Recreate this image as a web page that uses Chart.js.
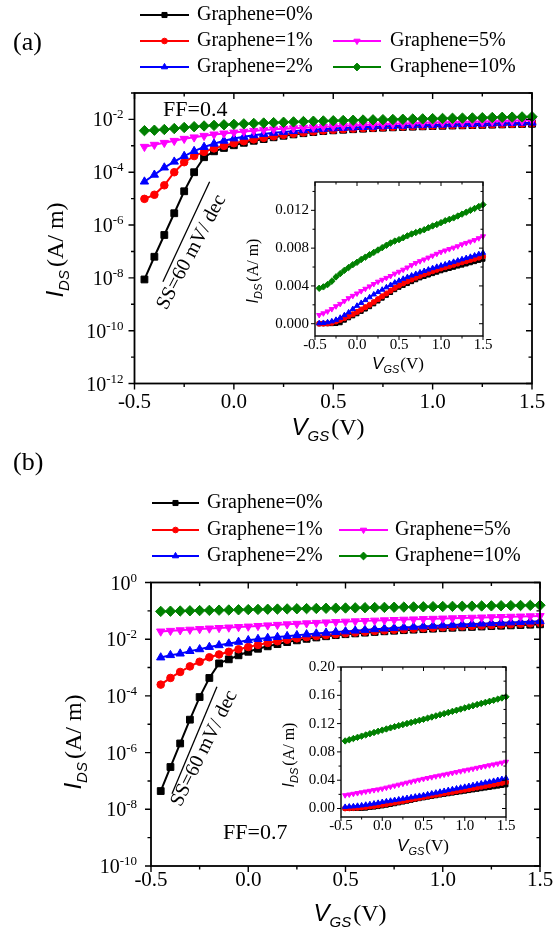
<!DOCTYPE html>
<html><head><meta charset="utf-8">
<script src="https://cdn.jsdelivr.net/npm/chart.js@4.4.0/dist/chart.umd.min.js"></script>
<style>
html,body{margin:0;padding:0;background:#fff;width:560px;height:937px;overflow:hidden}
#wrap{position:relative;width:560px;height:937px}
canvas{position:absolute;left:0;top:0}
</style></head><body>
<div id="wrap">
<canvas id="mainA" width="560" height="937"></canvas>
<canvas id="mainB" width="560" height="937"></canvas>
<canvas id="insetA" width="560" height="937"></canvas>
<canvas id="insetB" width="560" height="937"></canvas>
</div>
<script>
// ---------- DATA ----------
const vgs = [-0.45,-0.40,-0.35,-0.30,-0.25,-0.20,-0.15,-0.10,-0.05,0.00,
             0.05,0.10,0.15,0.20,0.25,0.30,0.35,0.40,0.45,0.50,
             0.55,0.60,0.65,0.70,0.75,0.80,0.85,0.90,0.95,1.00,
             1.05,1.10,1.15,1.20,1.25,1.30,1.35,1.40,1.45,1.50];
const seriesLabels = ['Graphene=0%','Graphene=1%','Graphene=2%','Graphene=5%','Graphene=10%'];

// Panel (a): FF = 0.4, I_DS in A/m
const g0A = [8.7e-9,6.3e-8,4.2e-7,2.8e-6,1.9e-5,1.0e-4,3.7e-4,6.2e-4,8.3e-4,1.05e-3,
             1.30e-3,1.55e-3,1.80e-3,2.10e-3,2.40e-3,2.70e-3,3.00e-3,3.30e-3,3.60e-3,3.85e-3,
             4.05e-3,4.25e-3,4.45e-3,4.65e-3,4.85e-3,5.00e-3,5.15e-3,5.30e-3,5.45e-3,5.60e-3,
             5.72e-3,5.85e-3,5.97e-3,6.10e-3,6.20e-3,6.32e-3,6.45e-3,6.57e-3,6.70e-3,6.82e-3];
const g1A = [9.8e-6,1.4e-5,3.2e-5,1.0e-4,2.4e-4,4.1e-4,5.9e-4,8.0e-4,1.0e-3,1.25e-3,
             1.50e-3,1.75e-3,2.00e-3,2.30e-3,2.60e-3,2.90e-3,3.20e-3,3.50e-3,3.80e-3,4.05e-3,
             4.27e-3,4.48e-3,4.68e-3,4.88e-3,5.07e-3,5.24e-3,5.40e-3,5.56e-3,5.71e-3,5.85e-3,
             5.98e-3,6.11e-3,6.24e-3,6.37e-3,6.50e-3,6.62e-3,6.75e-3,6.87e-3,7.00e-3,7.12e-3];
const g2A = [4.4e-5,8.0e-5,1.5e-4,2.5e-4,4.1e-4,6.3e-4,9.0e-4,1.2e-3,1.55e-3,1.9e-3,
             2.20e-3,2.50e-3,2.80e-3,3.10e-3,3.35e-3,3.60e-3,3.85e-3,4.10e-3,4.35e-3,4.55e-3,
             4.75e-3,4.93e-3,5.10e-3,5.27e-3,5.43e-3,5.58e-3,5.73e-3,5.88e-3,6.02e-3,6.15e-3,
             6.28e-3,6.42e-3,6.55e-3,6.68e-3,6.82e-3,6.95e-3,7.08e-3,7.22e-3,7.36e-3,7.50e-3];
const g5A = [9.2e-4,1.1e-3,1.3e-3,1.55e-3,1.85e-3,2.1e-3,2.4e-3,2.7e-3,2.95e-3,3.2e-3,
             3.45e-3,3.70e-3,3.95e-3,4.20e-3,4.45e-3,4.65e-3,4.85e-3,5.05e-3,5.30e-3,5.50e-3,
             5.72e-3,5.95e-3,6.20e-3,6.42e-3,6.62e-3,6.80e-3,7.00e-3,7.20e-3,7.40e-3,7.60e-3,
             7.75e-3,7.90e-3,8.05e-3,8.20e-3,8.40e-3,8.55e-3,8.70e-3,8.85e-3,9.05e-3,9.25e-3];
const g10A = [3.75e-3,3.90e-3,4.15e-3,4.50e-3,4.95e-3,5.30e-3,5.65e-3,5.95e-3,6.25e-3,6.50e-3,
              6.80e-3,7.05e-3,7.30e-3,7.55e-3,7.80e-3,8.05e-3,8.30e-3,8.55e-3,8.75e-3,8.90e-3,
              9.10e-3,9.30e-3,9.50e-3,9.65e-3,9.80e-3,9.95e-3,10.15e-3,10.35e-3,10.5e-3,10.7e-3,
              10.9e-3,11.05e-3,11.2e-3,11.4e-3,11.6e-3,11.8e-3,12.0e-3,12.2e-3,12.4e-3,12.6e-3];

// Panel (b): FF = 0.7
const g0B = [4.4e-8,3.1e-7,2.1e-6,1.45e-5,9.1e-5,4.3e-4,1.4e-3,1.95e-3,2.7e-3,3.6e-3,
             4.6e-3,5.6e-3,6.7e-3,7.9e-3,9.1e-3,10.3e-3,11.5e-3,12.7e-3,13.9e-3,15.0e-3,
             16.0e-3,17.0e-3,18.0e-3,19.0e-3,19.9e-3,20.8e-3,21.7e-3,22.6e-3,23.5e-3,24.4e-3,
             25.3e-3,26.2e-3,27.1e-3,28.0e-3,28.9e-3,29.8e-3,30.7e-3,31.6e-3,32.5e-3,33.4e-3];
const g1B = [2.5e-4,4.3e-4,7.0e-4,1.1e-3,1.6e-3,2.3e-3,2.9e-3,3.6e-3,4.4e-3,5.3e-3,
             6.3e-3,7.4e-3,8.5e-3,9.6e-3,10.7e-3,11.8e-3,12.9e-3,14.0e-3,15.1e-3,16.2e-3,
             17.3e-3,18.4e-3,19.5e-3,20.5e-3,21.5e-3,22.5e-3,23.5e-3,24.5e-3,25.5e-3,26.5e-3,
             27.5e-3,28.6e-3,29.7e-3,30.8e-3,31.9e-3,33.0e-3,34.1e-3,35.2e-3,36.3e-3,37.5e-3];
const g2B = [2.26e-3,2.73e-3,3.1e-3,3.8e-3,4.4e-3,5.3e-3,6.1e-3,7.0e-3,8.0e-3,9.2e-3,
             10.1e-3,11.0e-3,11.9e-3,12.8e-3,13.8e-3,14.8e-3,15.8e-3,16.8e-3,17.8e-3,18.8e-3,
             20.0e-3,21.2e-3,22.4e-3,23.6e-3,24.8e-3,26.0e-3,27.2e-3,28.3e-3,29.5e-3,30.6e-3,
             31.8e-3,33.0e-3,34.2e-3,35.4e-3,36.6e-3,37.8e-3,39.0e-3,40.3e-3,41.6e-3,42.9e-3];
const g5B = [18.8e-3,19.8e-3,20.8e-3,21.8e-3,22.9e-3,24.0e-3,25.0e-3,26.0e-3,27.0e-3,28.1e-3,
             29.5e-3,30.9e-3,32.3e-3,33.7e-3,35.1e-3,36.5e-3,37.9e-3,39.3e-3,40.6e-3,41.9e-3,
             43.1e-3,44.3e-3,45.5e-3,46.7e-3,47.9e-3,49.1e-3,50.3e-3,51.5e-3,52.7e-3,53.9e-3,
             55.1e-3,56.3e-3,57.5e-3,58.7e-3,59.9e-3,61.1e-3,62.3e-3,63.5e-3,64.8e-3,66.1e-3];
const g10B = [95.5e-3,97.2e-3,98.9e-3,100.6e-3,102.3e-3,104.0e-3,105.7e-3,107.4e-3,109.1e-3,110.8e-3,
              112.4e-3,114.0e-3,115.6e-3,117.1e-3,118.6e-3,120.1e-3,121.6e-3,123.1e-3,124.6e-3,126.1e-3,
              127.7e-3,129.3e-3,130.9e-3,132.5e-3,134.1e-3,135.7e-3,137.3e-3,138.9e-3,140.5e-3,142.1e-3,
              143.7e-3,145.3e-3,146.9e-3,148.5e-3,150.0e-3,151.5e-3,153.0e-3,154.6e-3,156.2e-3,157.8e-3];

// Tick values / labels
const xTickVals = [-0.5, 0.0, 0.5, 1.0, 1.5];
const xTickLabels = ['-0.5', '0.0', '0.5', '1.0', '1.5'];
const xMinorVals = [-0.25, 0.25, 0.75, 1.25];
const yExpA = [-12, -10, -8, -6, -4, -2];
const yExpB = [-10, -8, -6, -4, -2, 0];
const insetTickValsA = [0.000, 0.004, 0.008, 0.012];
const insetTickLabelsA = ['0.000', '0.004', '0.008', '0.012'];
const insetMinorA = [0.002, 0.006, 0.010, 0.014];
const insetTickValsB = [0.00, 0.04, 0.08, 0.12, 0.16, 0.20];
const insetTickLabelsB = ['0.00', '0.04', '0.08', '0.12', '0.16', '0.20'];
const insetMinorB = [0.02, 0.06, 0.10, 0.14, 0.18];

// ---------- STYLE ----------
const SERIF = "'Liberation Serif', 'Times New Roman', serif";
const SANS = "'Liberation Sans', Arial, sans-serif";
const colors = ['#000000', '#ff0000', '#0000ff', '#ff00ff', '#008000'];
const styles = ['rect', 'circle', 'triangle', 'triangle', 'rectRot'];
const rotations = [0, 0, 0, 180, 0];
const radiiMain = [4.8, 3.8, 4.8, 4.8, 5.2];
const radiiInset = [2.8, 2.6, 3.0, 3.0, 3.2];

function rich(ctx, segs, x, y, align) {
  let w = 0;
  segs.forEach(s => { ctx.font = s[1]; w += ctx.measureText(s[0]).width + (s[3] || 0); });
  let cx = align === 'center' ? x - w / 2 : (align === 'right' ? x - w : x);
  segs.forEach(s => {
    ctx.font = s[1]; cx += (s[3] || 0);
    ctx.fillText(s[0], cx, y + (s[2] || 0));
    cx += ctx.measureText(s[0]).width;
  });
}

function makeDatasets(values, radii, lw) {
  return values.map((vals, k) => ({
    label: seriesLabels[k],
    data: vgs.map((v, i) => ({ x: v, y: vals[i] })),
    borderColor: colors[k], backgroundColor: colors[k],
    pointBackgroundColor: colors[k], pointBorderColor: colors[k],
    pointStyle: styles[k], pointRotation: rotations[k], pointRadius: radii[k],
    pointBorderWidth: 1, borderWidth: lw, tension: 0, clip: false, order: 5 - k
  }));
}

function drawTicks(ctx, A, X, Y, yMajors, yMinors, maj, mnr) {
  ctx.beginPath();
  xTickVals.forEach(v => { const p = X.getPixelForValue(v);
    ctx.moveTo(p, A.bottom); ctx.lineTo(p, A.bottom + maj); ctx.moveTo(p, A.top); ctx.lineTo(p, A.top + maj); });
  xMinorVals.forEach(v => { const p = X.getPixelForValue(v);
    ctx.moveTo(p, A.bottom); ctx.lineTo(p, A.bottom + mnr); ctx.moveTo(p, A.top); ctx.lineTo(p, A.top + mnr); });
  yMajors.forEach(v => { const p = Y.getPixelForValue(v);
    ctx.moveTo(A.left, p); ctx.lineTo(A.left - maj, p); ctx.moveTo(A.right, p); ctx.lineTo(A.right - maj, p); });
  yMinors.forEach(v => { const p = Y.getPixelForValue(v);
    ctx.moveTo(A.left, p); ctx.lineTo(A.left - mnr, p); ctx.moveTo(A.right, p); ctx.lineTo(A.right - mnr, p); });
  ctx.stroke();
}

function mainDecor(cfg) {
  return {
    id: 'mainDecor',
    afterDraw(chart) {
      const ctx = chart.ctx, A = chart.chartArea, X = chart.scales.x, Y = chart.scales.y;
      ctx.save();
      ctx.strokeStyle = '#000'; ctx.fillStyle = '#000';
      ctx.lineWidth = 1.8;
      ctx.strokeRect(A.left, A.top, A.right - A.left, A.bottom - A.top);
      ctx.lineWidth = 1.4;
      const majors = [], minors = [];
      for (let e = cfg.eMin; e <= cfg.eMax; e++) {
        (cfg.yExp.includes(e) ? majors : minors).push(Math.pow(10, e));
      }
      drawTicks(ctx, A, X, Y, majors, minors, 6, 3.5);
      // y tick labels with superscripts
      ctx.textBaseline = 'alphabetic';
      cfg.yExp.forEach(e => {
        const p = Y.getPixelForValue(Math.pow(10, e));
        rich(ctx, [['10', '20px ' + SERIF, 0], [String(e), '13px ' + SERIF, -8]], A.left - cfg.yLabGap, p + 7, 'right');
      });
      // axis titles
      rich(ctx, [['V', 'italic 24px ' + SANS, 0], ['GS', 'italic 15px ' + SANS, 6], ['(V)', '24px ' + SERIF, 0, 2]],
        cfg.xTitle[0], cfg.xTitle[1], 'center');
      ctx.save();
      ctx.translate(cfg.yTitle[0], cfg.yTitle[1]);
      ctx.rotate(-Math.PI / 2);
      rich(ctx, [['I', 'italic 24px ' + SANS, 0], ['DS', 'italic 15px ' + SANS, 6], ['(A/ m)', '24px ' + SERIF, 0, 3]], 0, 0, 'center');
      ctx.restore();
      // panel label and FF label
      ctx.textBaseline = 'middle'; ctx.textAlign = 'left';
      ctx.font = '26px ' + SERIF; ctx.fillText(cfg.panel[0], cfg.panel[1], cfg.panel[2]);
      ctx.font = '22px ' + SERIF; ctx.fillText(cfg.ff[0], cfg.ff[1], cfg.ff[2]);
      // SS annotation line + text (data coordinates)
      const x1 = X.getPixelForValue(cfg.ss.p1[0]), y1 = Y.getPixelForValue(Math.pow(10, cfg.ss.p1[1]));
      const x2 = X.getPixelForValue(cfg.ss.p2[0]), y2 = Y.getPixelForValue(Math.pow(10, cfg.ss.p2[1]));
      ctx.lineWidth = 1.3;
      ctx.beginPath(); ctx.moveTo(x1, y1); ctx.lineTo(x2, y2); ctx.stroke();
      const tx = X.getPixelForValue(cfg.ss.t[0]), ty = Y.getPixelForValue(Math.pow(10, cfg.ss.t[1]));
      ctx.save(); ctx.translate(tx, ty); ctx.rotate(cfg.ss.ang * Math.PI / 180);
      ctx.textAlign = 'center'; ctx.textBaseline = 'middle'; ctx.font = '20px ' + SERIF;
      ctx.fillText('SS=60 mV/ dec', 0, 0); ctx.restore();
      // legend
      cfg.legend.forEach(L => {
        const ds = chart.data.datasets[L.k];
        ctx.strokeStyle = ds.borderColor; ctx.fillStyle = ds.borderColor; ctx.lineWidth = 2.2;
        ctx.beginPath(); ctx.moveTo(L.x1, L.y); ctx.lineTo(L.x2, L.y); ctx.stroke();
        ctx.lineWidth = 1;
        Chart.helpers.drawPoint(ctx, { pointStyle: ds.pointStyle, rotation: ds.pointRotation, radius: ds.pointRadius * 0.75, borderWidth: 1 }, (L.x1 + L.x2) / 2, L.y);
        ctx.fillStyle = '#000'; ctx.textAlign = 'left'; ctx.textBaseline = 'middle'; ctx.font = '20px ' + SERIF;
        ctx.fillText(ds.label, L.tx, L.y);
      });
      ctx.restore();
    }
  };
}

function mainChart(id, values, cfg) {
  return new Chart(document.getElementById(id), {
    type: 'line',
    data: { datasets: makeDatasets(values, radiiMain, 2) },
    options: {
      responsive: false, animation: false, events: [],
      layout: { padding: { left: 0, top: cfg.top, right: 560 - cfg.right, bottom: 0 } },
      plugins: { legend: { display: false }, tooltip: { enabled: false } },
      scales: {
        x: {
          type: 'linear', min: -0.5, max: 1.5,
          grid: { display: false, drawTicks: false }, border: { display: false },
          afterBuildTicks: s => { s.ticks = xTickVals.map(v => ({ value: v })); },
          ticks: { padding: cfg.xPad, color: '#000', autoSkip: false, maxRotation: 0,
            font: { family: SERIF, size: 21 }, callback: (v, i) => xTickLabels[i] },
          afterFit: s => { s.height = 937 - cfg.bottom; }
        },
        y: {
          type: 'logarithmic', min: cfg.ymin, max: cfg.ymax,
          grid: { display: false, drawTicks: false }, border: { display: false },
          ticks: { display: false },
          afterFit: s => { s.width = cfg.left; }
        }
      }
    },
    plugins: [mainDecor(cfg)]
  });
}

function insetDecor(cfg) {
  return {
    id: 'insetDecor',
    beforeDraw(chart) {
      const ctx = chart.ctx, A = chart.chartArea;
      ctx.save(); ctx.fillStyle = '#fff';
      ctx.fillRect(A.left, A.top, A.right - A.left, A.bottom - A.top); ctx.restore();
    },
    afterDraw(chart) {
      const ctx = chart.ctx, A = chart.chartArea, X = chart.scales.x, Y = chart.scales.y;
      ctx.save();
      ctx.strokeStyle = '#000'; ctx.fillStyle = '#000';
      ctx.lineWidth = 1.4;
      ctx.strokeRect(A.left, A.top, A.right - A.left, A.bottom - A.top);
      ctx.lineWidth = 1;
      drawTicks(ctx, A, X, Y, cfg.yTicks, cfg.yMinor, 4, 2.5);
      ctx.textBaseline = 'alphabetic';
      rich(ctx, [['V', 'italic 17px ' + SANS, 0], ['GS', 'italic 11px ' + SANS, 4], ['(V)', '17px ' + SERIF, 0, 1]],
        cfg.xTitle[0], cfg.xTitle[1], 'center');
      ctx.save();
      ctx.translate(cfg.yTitle[0], cfg.yTitle[1]);
      ctx.rotate(-Math.PI / 2);
      rich(ctx, [['I', 'italic 16px ' + SANS, 0], ['DS', 'italic 11px ' + SANS, 4], ['(A/ m)', '16px ' + SERIF, 0, 2]], 0, 0, 'center');
      ctx.restore();
      ctx.restore();
    }
  };
}

function insetChart(id, values, cfg) {
  return new Chart(document.getElementById(id), {
    type: 'line',
    data: { datasets: makeDatasets(values, radiiInset, 1.5) },
    options: {
      responsive: false, animation: false, events: [],
      layout: { padding: { left: cfg.left - 60, top: cfg.top, right: 560 - cfg.right, bottom: 0 } },
      plugins: { legend: { display: false }, tooltip: { enabled: false } },
      scales: {
        x: {
          type: 'linear', min: -0.5, max: 1.5,
          grid: { display: false, drawTicks: false }, border: { display: false },
          afterBuildTicks: s => { s.ticks = xTickVals.map(v => ({ value: v })); },
          ticks: { padding: cfg.xPad, color: '#000', autoSkip: false, maxRotation: 0,
            font: { family: SERIF, size: 15 }, callback: (v, i) => xTickLabels[i] },
          afterFit: s => { s.height = 937 - cfg.bottom; }
        },
        y: {
          type: 'linear', min: cfg.ymin, max: cfg.ymax,
          grid: { display: false, drawTicks: false }, border: { display: false },
          afterBuildTicks: s => { s.ticks = cfg.yTicks.map(v => ({ value: v })); },
          ticks: { padding: 6, color: '#000', autoSkip: false,
            font: { family: SERIF, size: 15 }, callback: (v, i) => cfg.yLabels[i] },
          afterFit: s => { s.width = 60; }
        }
      }
    },
    plugins: [insetDecor(cfg)]
  });
}

mainChart('mainA', [g0A, g1A, g2A, g5A, g10A], {
  left: 134.5, right: 532, top: 93, bottom: 383.5, ymin: 1e-12, ymax: 1e-1,
  eMin: -12, eMax: -1, yExp: yExpA, xPad: 6, yLabGap: 11,
  xTitle: [328, 435], yTitle: [63, 250],
  panel: ['(a)', 13, 43], ff: ['FF=0.4', 163, 110],
  ss: { p1: [-0.357, -8.15], p2: [-0.122, -4.36], t: [-0.213, -7.03], ang: -62 },
  legend: [
    { k: 0, x1: 140, x2: 189, y: 15, tx: 197 },
    { k: 1, x1: 140, x2: 189, y: 41, tx: 197 },
    { k: 2, x1: 140, x2: 189, y: 67, tx: 197 },
    { k: 3, x1: 333, x2: 381, y: 41, tx: 390 },
    { k: 4, x1: 333, x2: 381, y: 67, tx: 390 }
  ]
});
mainChart('mainB', [g0B, g1B, g2B, g5B, g10B], {
  left: 151, right: 540, top: 582.5, bottom: 866, ymin: 1e-10, ymax: 1,
  eMin: -10, eMax: 0, yExp: yExpB, xPad: 2, yLabGap: 14,
  xTitle: [350, 921], yTitle: [81, 742],
  panel: ['(b)', 13, 463], ff: ['FF=0.7', 223, 833],
  ss: { p1: [-0.392, -7.45], p2: [-0.161, -3.68], t: [-0.226, -5.85], ang: -63.5 },
  legend: [
    { k: 0, x1: 152, x2: 199, y: 503, tx: 207 },
    { k: 1, x1: 152, x2: 199, y: 530, tx: 207 },
    { k: 2, x1: 152, x2: 199, y: 556, tx: 207 },
    { k: 3, x1: 339, x2: 388, y: 530, tx: 395 },
    { k: 4, x1: 339, x2: 388, y: 556, tx: 395 }
  ]
});
insetChart('insetA', [g0A, g1A, g2A, g5A, g10A], {
  left: 315, right: 483, top: 182, bottom: 336, ymin: -0.0013, ymax: 0.015,
  yTicks: insetTickValsA, yLabels: insetTickLabelsA, yMinor: insetMinorA, xPad: 0,
  xTitle: [398, 369], yTitle: [257.5, 271]
});
insetChart('insetB', [g0B, g1B, g2B, g5B, g10B], {
  left: 341, right: 506, top: 667, bottom: 817, ymin: -0.012, ymax: 0.20,
  yTicks: insetTickValsB, yLabels: insetTickLabelsB, yMinor: insetMinorB, xPad: 0,
  xTitle: [423, 851], yTitle: [293.5, 755]
});
</script>
</body></html>
